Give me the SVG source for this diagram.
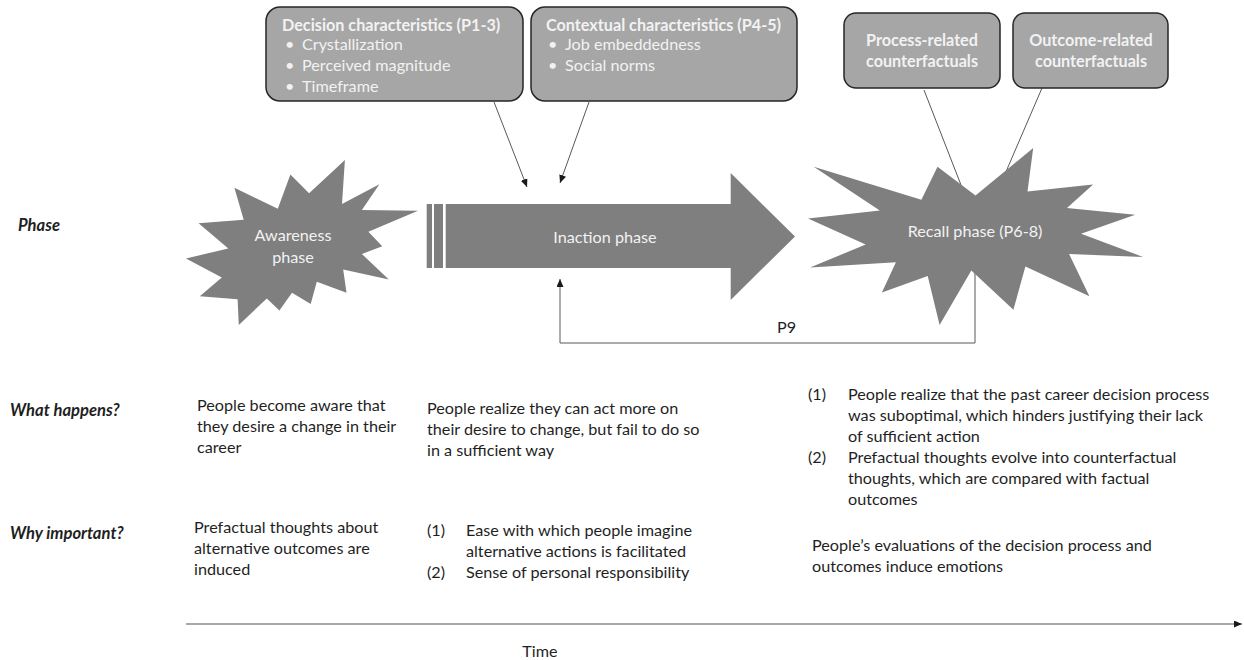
<svg xmlns="http://www.w3.org/2000/svg" width="1244" height="660" viewBox="0 0 1244 660">
<style>
text{font-family:Lato,"Liberation Sans",sans-serif;font-size:16.2px;fill:#1f1f1f}
.lab{font-weight:bold;font-style:italic;font-size:16.6px}
.w{fill:#f2f2f2}
.b{font-weight:bold}
.mid{text-anchor:middle}
.shape{fill:#7f7f7f}
.box{fill:#a6a6a6;stroke:#262626;stroke-width:1.5}
.ln{fill:none;stroke:#595959;stroke-width:1}
</style>
<defs>
<marker id="ah" markerUnits="userSpaceOnUse" markerWidth="9" markerHeight="8" refX="8" refY="3.5" orient="auto">
<path d="M0,0 L8,3.5 L0,7 z" fill="#1a1a1a"/>
</marker>
</defs>
<rect width="1244" height="660" fill="#ffffff"/>

<g id="connectors">
<line class="ln" x1="494" y1="102" x2="527" y2="187" marker-end="url(#ah)"/>
<line class="ln" x1="589" y1="102" x2="560" y2="183" marker-end="url(#ah)"/>
<line class="ln" x1="924" y1="90" x2="961" y2="185"/>
<line class="ln" x1="1042" y1="88" x2="1005" y2="174"/>
<path class="ln" stroke="#7f7f7f" d="M975,268 V343 H560 V279" marker-end="url(#ah)"/>
<line x1="186" y1="624" x2="1242" y2="624" stroke="#8c8c8c" stroke-width="1.5" marker-end="url(#ah)"/>
</g>

<g id="labels">
<text class="lab" x="18" y="231">Phase</text>
<text class="lab" x="10" y="416">What happens?</text>
<text class="lab" x="10" y="539">Why important?</text>
<text x="540" y="657" class="mid">Time</text>
<text x="777" y="333">P9</text>
</g>

<g id="decision-box">
<rect class="box" x="266" y="7" width="257" height="94" rx="14"/>
<text class="w b" x="282" y="31">Decision characteristics (P1-3)</text>
<text class="w" x="285" y="50">•</text><text class="w" x="302" y="50">Crystallization</text>
<text class="w" x="285" y="71">•</text><text class="w" x="302" y="71">Perceived magnitude</text>
<text class="w" x="285" y="92">•</text><text class="w" x="302" y="92">Timeframe</text>
</g>

<g id="contextual-box">
<rect class="box" x="531" y="7" width="266" height="94" rx="14"/>
<text class="w b" x="546" y="31">Contextual characteristics (P4-5)</text>
<text class="w" x="548" y="50">•</text><text class="w" x="565" y="50">Job embeddedness</text>
<text class="w" x="548" y="71">•</text><text class="w" x="565" y="71">Social norms</text>
</g>

<g id="process-box">
<rect class="box" x="844" y="13" width="156" height="75" rx="12"/>
<text class="w b mid" x="922" y="46">Process-related</text>
<text class="w b mid" x="922" y="67">counterfactuals</text>
</g>

<g id="outcome-box">
<rect class="box" x="1013" y="13" width="155" height="75" rx="12"/>
<text class="w b mid" x="1091" y="46">Outcome-related</text>
<text class="w b mid" x="1091" y="67">counterfactuals</text>
</g>

<g id="awareness-phase">
<polygon class="shape" points="309.1,193.2 344.9,160 342,204.1 379.4,184.2 361.9,209.9 418,210.8 368.4,231.8 382.2,246.2 361.9,254 388.8,279.4 343.2,269.6 346.5,292.7 316.8,281.7 310.7,303.9 292,292.7 279.4,310.6 266.8,298.5 238.8,325 237.6,299.3 199.8,296.2 221.8,277.4 186,258.4 228.3,248.6 198.6,223.2 243.7,219.7 234.4,187.7 277.8,208.8 290.4,174.4"/>
<text class="w mid" x="293" y="241">Awareness</text>
<text class="w mid" x="293" y="263">phase</text>
</g>

<g id="inaction-phase">
<rect class="shape" x="426.7" y="204" width="5.3" height="64"/>
<rect class="shape" x="434" y="204" width="9" height="64"/>
<polygon class="shape" points="445.7,204 730.7,204 730.7,173 795,236.5 730.7,300 730.7,268 445.7,268"/>
<text class="w mid" x="605" y="243">Inaction phase</text>
</g>

<g id="recall-phase">
<polygon class="shape" points="975.5,195.5 1033.2,148 1027.5,191.6 1093.1,184.5 1067,207.9 1135.2,214.7 1081.1,233.8 1143,256.9 1069.1,254.1 1089.4,296.3 1025.4,266.5 1013.4,309.7 971.3,270.4 939.6,325 927.7,276.1 881.9,292.4 895.9,262.2 810.1,267.5 865.7,244.5 808,218.6 879.8,210.4 813.7,166.8 921.4,199.8 937.5,166.8"/>
<text class="w mid" x="975" y="237">Recall phase (P6-8)</text>
</g>

<g id="awareness-text">
<text x="197" y="411">People become aware that</text>
<text x="197" y="432">they desire a change in their</text>
<text x="197" y="453">career</text>
<text x="194" y="533">Prefactual thoughts about</text>
<text x="194" y="554">alternative outcomes are</text>
<text x="194" y="575">induced</text>
</g>

<g id="inaction-text">
<text x="427" y="414">People realize they can act more on</text>
<text x="427" y="435">their desire to change, but fail to do so</text>
<text x="427" y="456">in a sufficient way</text>
<text x="427" y="536">(1)</text><text x="466" y="536">Ease with which people imagine</text>
<text x="466" y="557">alternative actions is facilitated</text>
<text x="427" y="578">(2)</text><text x="466" y="578">Sense of personal responsibility</text>
</g>

<g id="recall-text">
<text x="808" y="400">(1)</text><text x="848" y="400">People realize that the past career decision process</text>
<text x="848" y="421">was suboptimal, which hinders justifying their lack</text>
<text x="848" y="442">of sufficient action</text>
<text x="808" y="463">(2)</text><text x="848" y="463">Prefactual thoughts evolve into counterfactual</text>
<text x="848" y="484">thoughts, which are compared with factual</text>
<text x="848" y="505">outcomes</text>
<text x="812" y="551">People’s evaluations of the decision process and</text>
<text x="812" y="572">outcomes induce emotions</text>
</g>
</svg>
